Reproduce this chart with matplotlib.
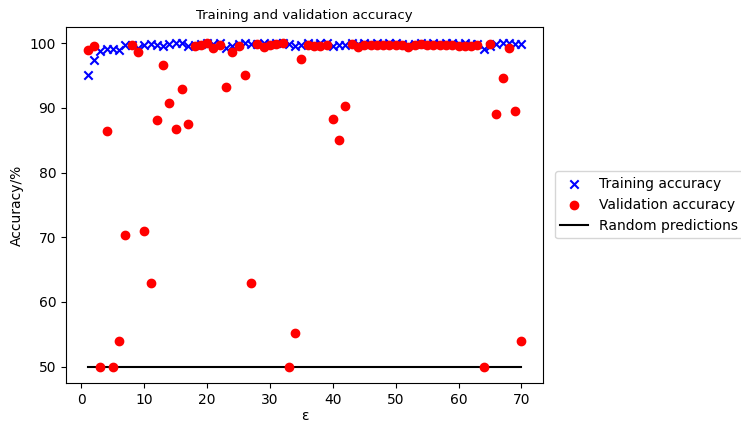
import matplotlib
matplotlib.use("Agg")
import matplotlib.pyplot as plt

# epochs 1..70
epochs = list(range(1, 71))

# accuracy in %
train_acc = [95.1, 97.4, 98.8, 99.1, 99.1, 99.0, 99.7, 99.8, 99.2, 99.7,
             99.9, 99.7, 99.6, 99.9, 100.0, 100.0, 99.5, 99.8, 99.9, 100.0,
             99.9, 100.0, 99.3, 99.6, 99.9, 100.0, 99.9, 99.9, 100.0, 99.9,
             100.0, 100.0, 99.9, 99.6, 99.8, 100.0, 99.9, 100.0, 100.0, 99.6,
             99.8, 99.7, 100.0, 99.9, 100.0, 99.9, 100.0, 99.9, 100.0, 100.0,
             99.9, 99.7, 99.9, 100.0, 99.9, 100.0, 99.9, 100.0, 100.0, 99.9,
             100.0, 99.9, 99.9, 99.1, 99.5, 99.9, 100.0, 100.0, 99.9, 99.9]

val_acc = [99.0, 99.6, 50.0, 86.5, 50.0, 53.9, 70.3, 99.7, 98.6, 70.9,
           63.0, 88.1, 96.7, 90.7, 86.7, 92.9, 87.5, 99.5, 99.7, 100.0,
           99.3, 99.8, 93.2, 98.7, 99.5, 95.1, 63.0, 99.9, 99.4, 99.8,
           99.9, 100.0, 50.0, 55.2, 97.5, 99.7, 99.6, 99.5, 99.7, 88.3,
           85.1, 90.3, 99.9, 99.4, 99.8, 99.7, 99.8, 99.7, 99.8, 99.8,
           99.7, 99.4, 99.8, 99.9, 99.7, 99.8, 99.7, 99.8, 99.7, 99.6,
           99.6, 99.6, 99.7, 50.0, 99.9, 89.1, 94.7, 99.2, 89.5, 53.9]

random_level = [50.0] * len(epochs)

fig = plt.figure(figsize=(7.41, 4.23), dpi=100)
ax = fig.add_axes([0.089, 0.095, 0.644, 0.841])

line, = ax.plot(epochs, random_level, color='black', zorder=1)
tr = ax.scatter(epochs, train_acc, marker='x', color='blue', zorder=2)
va = ax.scatter(epochs, val_acc, marker='o', color='red', zorder=3)

ax.set_title("Training and validation accuracy", fontsize=9.5)
ax.set_xlabel("ε", labelpad=2)
ax.set_ylabel("Accuracy/%")
ax.legend([tr, va, line], ["Training accuracy", "Validation accuracy", "Random predictions"],
          loc='center left', bbox_to_anchor=(1.01, 0.5))

fig.savefig("out.png", dpi=100)
plt.close(fig)
